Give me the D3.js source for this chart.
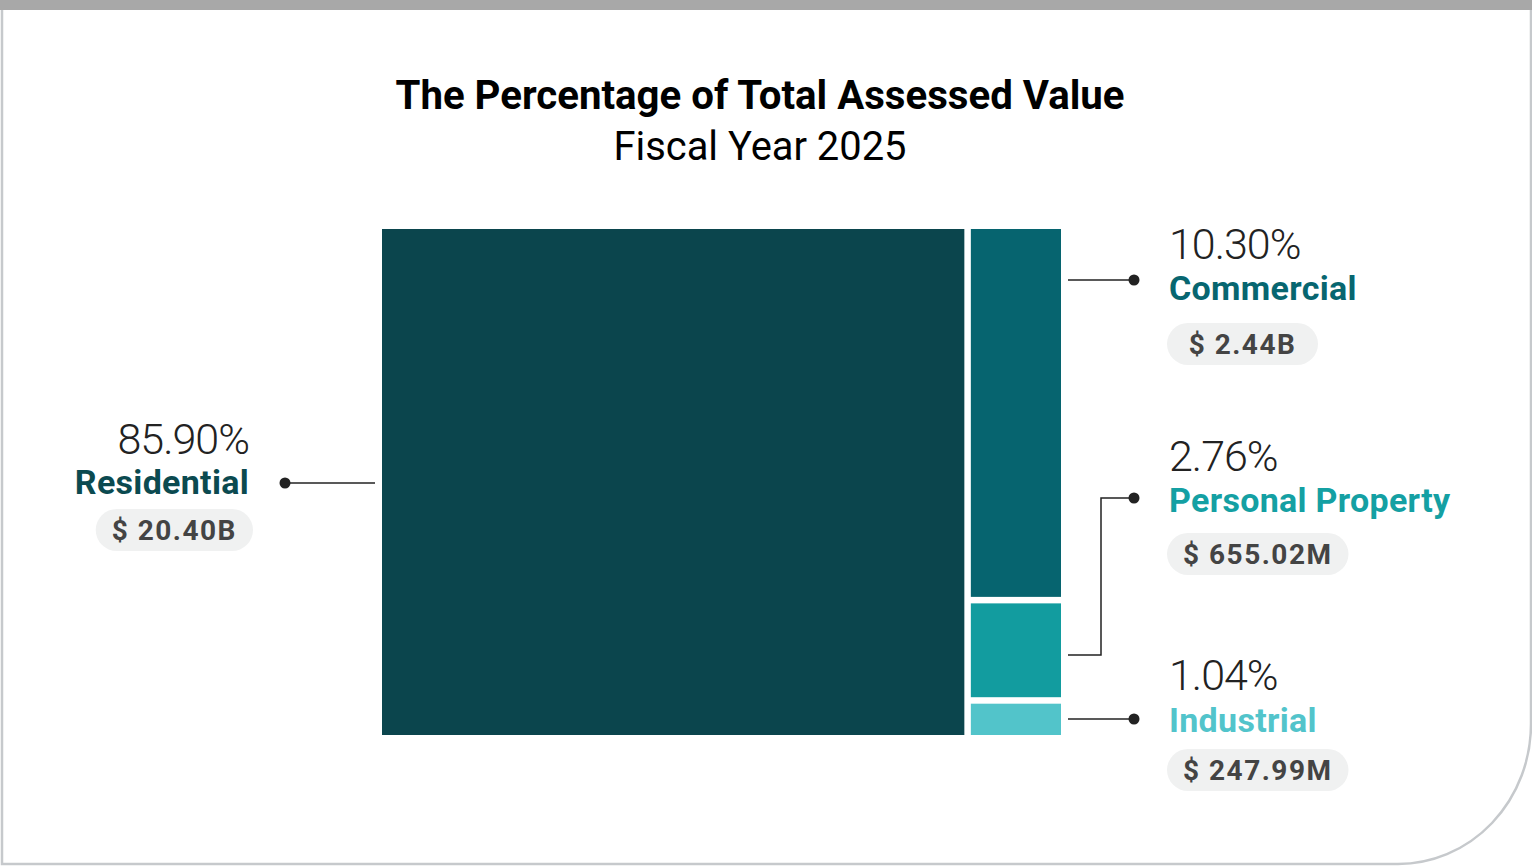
<!DOCTYPE html>
<html>
<head>
<meta charset="utf-8">
<script src="https://cdn.jsdelivr.net/npm/d3@7"></script>
<style>
  body { margin: 0; background: #fff; }
  svg { display: block; }
</style>
</head>
<body>
<div id="chart"></div>
<script>
const categories = ["Residential", "Commercial", "Personal Property", "Industrial"];
const percents = [85.9, 10.3, 2.76, 1.04];
const amounts = ["$ 20.40B", "$ 2.44B", "$ 655.02M", "$ 247.99M"];
const colors = ["#0b454d", "#06646f", "#129c9f", "#52c4ca"];
const labelColors = ["#0b4a50", "#076670", "#14a0a3", "#52c4cb"];

const width = 1532, height = 866;
const font = "Roboto, 'Noto Sans', sans-serif";

const svg = d3.select("#chart").append("svg")
  .attr("width", width)
  .attr("height", height);

// frame
svg.append("rect").attr("x", 0).attr("y", 0).attr("width", width).attr("height", 10).attr("fill", "#a8a8a8");
svg.append("path")
  .attr("d", "M2,10 L2,864 L1398,864 A133,140 0 0 0 1531,724 L1531,10")
  .attr("fill", "none")
  .attr("stroke", "#c6c9cc")
  .attr("stroke-width", 2.5);

// title
svg.append("text")
  .attr("x", 760).attr("y", 109)
  .attr("text-anchor", "middle")
  .attr("font-family", font).attr("font-weight", 700).attr("font-size", 40)
  .attr("textLength", 729).attr("lengthAdjust", "spacingAndGlyphs")
  .attr("fill", "#000")
  .text("The Percentage of Total Assessed Value");
svg.append("text")
  .attr("x", 760).attr("y", 160)
  .attr("text-anchor", "middle")
  .attr("font-family", font).attr("font-weight", 400).attr("font-size", 40)
  .attr("textLength", 293).attr("lengthAdjust", "spacingAndGlyphs")
  .attr("fill", "#000")
  .text("Fiscal Year 2025");

// treemap: residential on the left, the rest stacked in one column
const root = d3.hierarchy({
  children: [
    { name: categories[0], value: percents[0], i: 0 },
    { children: categories.slice(1).map((c, k) => ({ name: c, value: percents[k + 1], i: k + 1 })) }
  ]
}).sum(d => d.value || 0);

d3.treemap()
  .tile(d3.treemapSliceDice)
  .size([1061 - 382, 735 - 229])
  .paddingInner(6.5)(root);

const g = svg.append("g").attr("transform", "translate(382,229)");
const leaves = root.leaves();
g.selectAll("rect")
  .data(leaves)
  .enter()
  .append("rect")
  .attr("x", d => d.x0)
  .attr("y", d => d.y0)
  .attr("width", d => d.x1 - d.x0)
  .attr("height", d => d.y1 - d.y0)
  .attr("fill", d => colors[d.data.i]);

// labels
const fmt = d3.format(".2f");
const byIndex = {};
leaves.forEach(d => { byIndex[d.data.i] = d; });

const labelPos = [
  { x: 249, pctY: 454, y: 494, pillY: 509, anchor: "end", dotX: 285, dotY: 483 },
  { x: 1169, pctY: 259, y: 300, pillY: 323, anchor: "start", dotX: 1134, dotY: 280 },
  { x: 1169, pctY: 471, y: 512, pillY: 533, anchor: "start", dotX: 1134, dotY: 498 },
  { x: 1169, pctY: 690, y: 732, pillY: 749, anchor: "start", dotX: 1134, dotY: 719 }
];

categories.forEach((c, i) => {
  const p = labelPos[i];
  const leaf = byIndex[i];
  const lg = svg.append("g");

  lg.append("text")
    .attr("x", p.x).attr("y", p.pctY)
    .attr("text-anchor", p.anchor)
    .attr("font-family", font).attr("font-weight", 300).attr("font-size", 43)
    .attr("letter-spacing", -1)
    .attr("fill", "#222")
    .text(fmt(percents[i]) + "%");

  lg.append("text")
    .attr("x", p.x).attr("y", p.y)
    .attr("text-anchor", p.anchor)
    .attr("font-family", font).attr("font-weight", 700).attr("font-size", 34)
    .attr("letter-spacing", 0.3)
    .attr("fill", labelColors[i])
    .text(c);

  const amt = lg.append("text")
    .attr("font-family", font).attr("font-weight", 700).attr("font-size", 28)
    .attr("letter-spacing", 1.5)
    .attr("fill", "#444")
    .text(amounts[i]);
  const w = amt.node().getComputedTextLength();
  const pillW = Math.max(w + 32, 151), pillH = 42;
  const pillX = p.anchor === "end" ? p.x + 4 - pillW : p.x - 2;
  lg.insert("rect", "text:last-child")
    .attr("x", pillX).attr("y", p.pillY)
    .attr("width", pillW).attr("height", pillH)
    .attr("rx", pillH / 2)
    .attr("fill", "#f0f1f1");
  amt.attr("x", pillX + pillW / 2).attr("y", p.pillY + 31).attr("text-anchor", "middle");

  // connector
  let path;
  if (i === 0) {
    path = `M${382 + leaf.x0 - 7},${p.dotY} L${p.dotX},${p.dotY}`;
  } else {
    const sx = 382 + leaf.x1 + 7;
    const sy = i === 1 ? p.dotY : 229 + leaf.y0 + (leaf.y1 - leaf.y0) * 0.55;
    if (Math.abs(sy - p.dotY) < 2) {
      path = `M${sx},${p.dotY} L${p.dotX},${p.dotY}`;
    } else {
      const mx = 1101;
      path = `M${sx},${sy} L${mx},${sy} L${mx},${p.dotY} L${p.dotX},${p.dotY}`;
    }
  }
  lg.append("path").attr("d", path).attr("fill", "none").attr("stroke", "#222").attr("stroke-width", 1.5);
  lg.append("circle").attr("cx", p.dotX).attr("cy", p.dotY).attr("r", 5.5).attr("fill", "#222");
});
</script>
</body>
</html>
